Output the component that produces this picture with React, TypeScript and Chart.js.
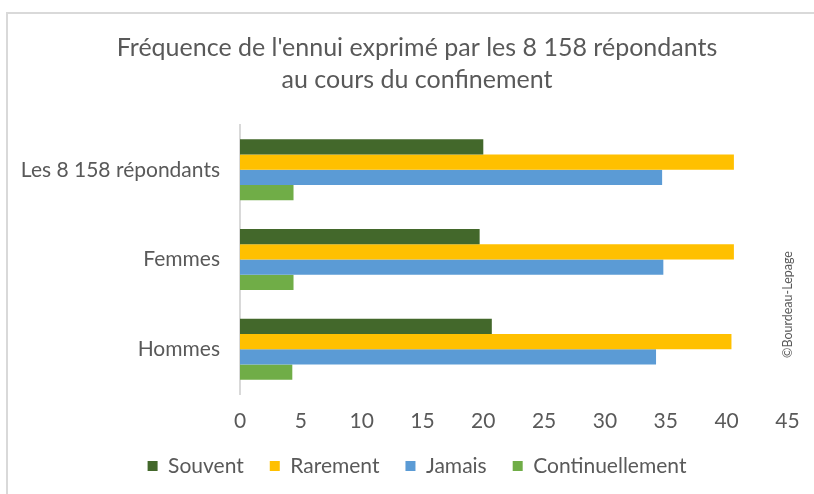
import React, { useEffect, useRef } from "react";
import { Chart, registerables } from "chart.js";

Chart.register(...registerables);

const categories = ["Les 8 158 répondants", "Femmes", "Hommes"];
const seriesNames = ["Souvent", "Rarement", "Jamais", "Continuellement"];
const souvent = [20.0, 19.7, 20.7];
const rarement = [40.6, 40.6, 40.4];
const jamais = [34.7, 34.8, 34.2];
const continuellement = [4.4, 4.4, 4.3];
const seriesColors = ["#43682B", "#FFC000", "#5B9BD5", "#70AD47"];
const titleLines = ["Fréquence de l'ennui exprimé par les 8 158 répondants", "au cours du confinement"];
const watermark = "©Bourdeau-Lepage";

const FONT = "Lato, 'Open Sans', sans-serif";
const TEXT = "#595959";

const framePlugin = {
  id: "frame",
  beforeDraw(chart: any) {
    const ctx = chart.ctx;
    ctx.save();
    ctx.fillStyle = "#ffffff";
    ctx.fillRect(0, 0, chart.width, chart.height);
    ctx.strokeStyle = "#d9d9d9";
    ctx.lineWidth = 2;
    ctx.beginPath();
    ctx.moveTo(7, chart.height + 2);
    ctx.lineTo(7, 13);
    ctx.lineTo(chart.width + 2, 13);
    ctx.stroke();
    ctx.restore();
  },
  afterDraw(chart: any) {
    const ctx = chart.ctx;
    const area = chart.chartArea;
    ctx.save();
    ctx.translate(area.right + 1, (area.top + area.bottom) / 2 + 45);
    ctx.rotate(-Math.PI / 2);
    ctx.fillStyle = TEXT;
    ctx.font = "12.5px " + FONT;
    ctx.textAlign = "center";
    ctx.textBaseline = "middle";
    ctx.fillText(watermark, 0, 0);
    ctx.restore();
  },
};

export default function App() {
  const ref = useRef<HTMLCanvasElement | null>(null);
  useEffect(() => {
    if (!ref.current) return;
    const values = [souvent, rarement, jamais, continuellement];
    const chart = new Chart(ref.current, {
      type: "bar",
      data: {
        labels: categories,
        datasets: seriesNames.map((name, i) => ({
          label: name,
          data: values[i],
          backgroundColor: seriesColors[i],
          borderWidth: 0,
          barPercentage: 1,
          categoryPercentage: 0.68,
        })),
      },
      options: {
        indexAxis: "y",
        responsive: false,
        animation: false,
        layout: { padding: { left: 20, right: 0, top: 0, bottom: 7.5 } },
        scales: {
          x: {
            min: 0,
            max: 45,
            ticks: { stepSize: 5, color: TEXT, font: { family: FONT, size: 21 }, padding: 14.4 },
            grid: { display: false, drawTicks: false },
            border: { display: false },
            afterFit(scale: any) {
              scale.height = 35.5;
            },
          },
          y: {
            ticks: { color: TEXT, font: { family: FONT, size: 21 }, padding: 20 },
            grid: { display: false, drawTicks: false },
            border: { display: true, color: "#d9d9d9", width: 2 },
            afterFit(scale: any) {
              scale.width = 220;
            },
          },
          yRight: {
            type: "category",
            position: "right",
            labels: categories,
            ticks: { display: false },
            grid: { display: false, drawTicks: false },
            border: { display: false },
            afterFit(scale: any) {
              scale.width = 26;
            },
          },
        },
        plugins: {
          title: {
            display: true,
            text: titleLines,
            color: TEXT,
            font: { family: FONT, size: 25, weight: "normal", lineHeight: 32 / 25 },
            padding: { top: 32, bottom: 29 },
          },
          legend: {
            position: "bottom",
            labels: {
              color: TEXT,
              font: { family: FONT, size: 21 },
              boxWidth: 10,
              boxHeight: 10,
              padding: 26,
            },
          },
          tooltip: { enabled: false },
        },
      },
      plugins: [framePlugin],
    } as any);
    return () => chart.destroy();
  }, []);
  return (
    <div style={{ position: "fixed", left: 0, top: 0, width: 814, height: 494 }}>
      <canvas ref={ref} width={814} height={494} style={{ display: "block" }} />
    </div>
  );
}
